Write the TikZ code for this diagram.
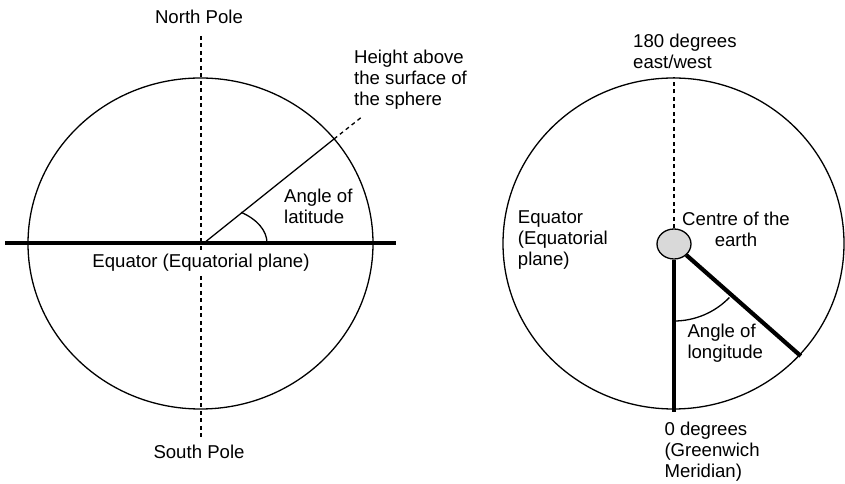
\documentclass[tikz,border=0pt]{standalone}
\usepackage{fontspec}
\setmainfont{Liberation Sans}
\usetikzlibrary{shapes.geometric}

\begin{document}
\begin{tikzpicture}[
  x=1pt, y=1pt,
  every node/.style={font=\fontsize{18.6}{21}\selectfont, inner sep=0pt},
  globe/.style={ellipse, draw, line width=1.3pt, inner sep=0pt},
  core/.style={ellipse, draw, line width=1.3pt, fill=gray!30, inner sep=0pt},
  axis/.style={dashed, dash pattern=on 4pt off 3.5pt, line width=1.3pt},
  heavy/.style={line width=4.2pt},
  thin/.style={line width=1.3pt},
  txt/.style={align=left, anchor=west}
]
\useasboundingbox (0,0) rectangle (845,484);

% latitude
\node[globe, minimum width=345pt, minimum height=331pt] (globeL) at (200.5,240.5) {};
\coordinate (O) at (204,241);
\coordinate (surf) at (334,345);
\coordinate (high) at (363,368);
\draw[axis] (201,448) -- (201,47);
\node[fill=white, inner sep=2pt] (eqtxt) at (201,221) {Equator (Equatorial plane)};
\draw[heavy] (5,241) -- (396,241);
\draw[thin] (O) -- (surf);
\draw[axis] (surf) -- (high);
\draw[thin] ([shift={(63pt,0pt)}]O) arc[start angle=0, end angle=54, x radius=63pt, y radius=38pt];
\node (north) at (199,467) {North Pole};
\node (south) at (199,32) {South Pole};
\node[txt] (height) at (354,404) {Height above\\the surface of\\the sphere};
\node[txt] (lat) at (284,277.5) {Angle of\\latitude};

% longitude
\node[globe, minimum width=341pt, minimum height=331pt] (globeR) at (673.5,240.5) {};
\node[core, minimum width=34pt, minimum height=30pt] (core) at (674,240) {};
\coordinate (rim) at (800.7,128);
\draw[axis] (core.north) -- (core.north |- globeR.north);
\draw[heavy] (core.south) -- ([yshift=-2pt]core.south |- globeR.south);
\draw[heavy] (core.-42) -- (rim);
\draw[thin] ([shift={(-90:77pt)}]core.center) arc[start angle=-90, end angle=-44, radius=77pt];
\node[txt] (east) at (633,433) {180 degrees\\east/west};
\node[txt] (equator) at (517.7,244) {Equator\\(Equatorial\\plane)};
\node[align=center] (centre) at (736,254.5) {Centre of the\\earth};
\node[txt] (long) at (687.3,140.5) {Angle of\\longitude};
\node[txt] (green) at (664.3,32) {0 degrees\\(Greenwich\\Meridian)};
\end{tikzpicture}
\end{document}
